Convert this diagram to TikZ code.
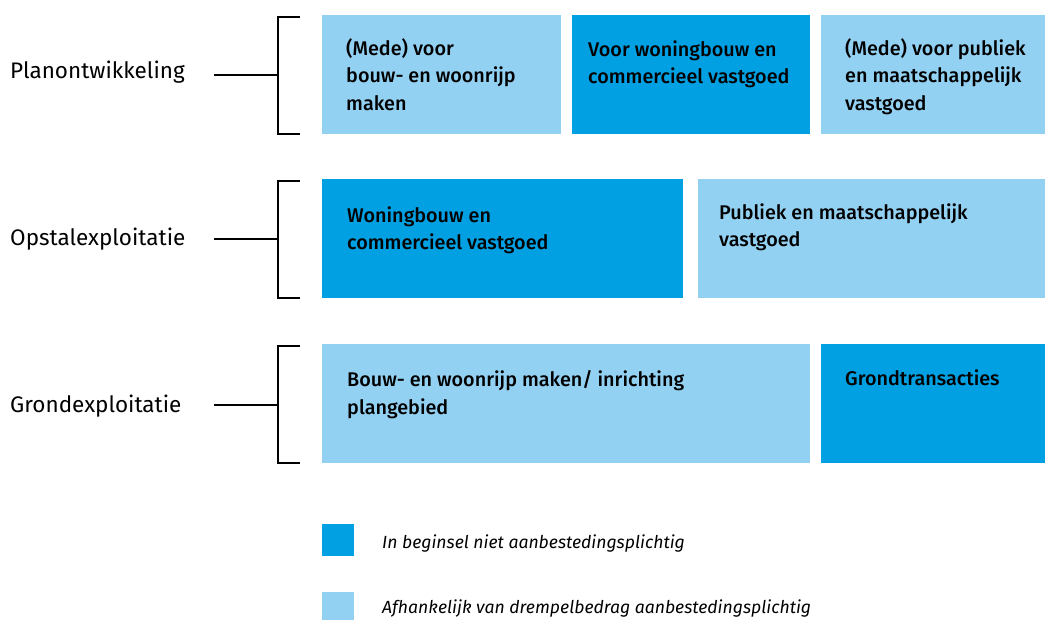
\documentclass[tikz,border=0pt]{standalone}
\usepackage{fontspec}
\setmainfont{Fira Sans}[BoldFont={Fira Sans Medium}]
\usetikzlibrary{calc}
\definecolor{blueDark}{RGB}{1,160,226}
\definecolor{blueLight}{RGB}{147,209,243}
\begin{document}
\begin{tikzpicture}[x=1pt,y=-1pt,
  boxbase/.style={rectangle,inner sep=0pt,outer sep=0pt,anchor=north west,minimum height=119pt},
  dark/.style={boxbase,fill=blueDark},
  light/.style={boxbase,fill=blueLight},
  boxtext/.style={anchor=base west,inner sep=0pt,align=left,
    font=\fontsize{19.8}{27.5}\selectfont\bfseries},
  rowlabel/.style={anchor=base west,inner sep=0pt,font=\fontsize{22.5}{26}\selectfont},
  legtext/.style={anchor=base west,inner sep=0pt,font=\fontsize{17.6}{20}\selectfont\itshape},
  legbox/.style={rectangle,inner sep=0pt,outer sep=0pt,anchor=north west,minimum width=32pt,minimum height=32pt},
  bracket/.style={line width=1.4pt,black}]
\useasboundingbox (0,0) rectangle (1045,619);

% row 1: Planontwikkeling (text anchored at the baseline of its last line)
\node[light,minimum width=239pt] (p1) at (322,15) {};
\node[dark,minimum width=238pt] (p2) at (572,15) {};
\node[light,minimum width=224pt] (p3) at (821,15) {};
\node[boxtext] (p1t) at ($(p1.north west)+(24,95)$) {(Mede) voor\\bouw- en woonrijp\\maken};
\node[boxtext] (p2t) at ($(p2.north west)+(16,68.5)$) {Voor woningbouw en\\commercieel vastgoed};
\node[boxtext] (p3t) at ($(p3.north west)+(24,95)$) {(Mede) voor publiek\\en maatschappelijk\\vastgoed};

% row 2: Opstalexploitatie
\node[dark,minimum width=361pt] (o1) at (322,179) {};
\node[light,minimum width=347pt] (o2) at (698,179) {};
\node[boxtext] (o1t) at ($(o1.north west)+(25,70.5)$) {Woningbouw en\\commercieel vastgoed};
\node[boxtext] (o2t) at ($(o2.north west)+(21,67.5)$) {Publiek en maatschappelijk\\vastgoed};

% row 3: Grondexploitatie
\node[light,minimum width=488pt] (g1) at (322,344) {};
\node[dark,minimum width=224pt] (g2) at (821,344) {};
\node[boxtext] (g1t) at ($(g1.north west)+(25,70)$) {Bouw- en woonrijp maken/ inrichting\\plangebied};
\node[boxtext] (g2t) at ($(g2.north west)+(24,41)$) {Grondtransacties};

% row labels
\node[rowlabel] (lp) at (10,78) {Planontwikkeling};
\node[rowlabel] (lo) at (10,245) {Opstalexploitatie};
\node[rowlabel] (lg) at (10,412) {Grondexploitatie};

% brackets
\foreach \lab/\top/\bot/\mid in {lp/17/134/75, lo/181/298/239, lg/346/463/405}{
  \coordinate (\lab-s) at (214,\mid);
  \coordinate (\lab-m) at (278,\mid);
  \draw[bracket] (\lab-s) -- (\lab-m);
  \draw[bracket] (300,\top) -- (278,\top) -- (278,\bot) -- (300,\bot);
}

% legend
\node[legbox,fill=blueDark] (k1) at (322,524) {};
\node[legbox,fill=blueLight] (k2) at (322,592) {};
\node[legtext] (k1t) at (382,548) {In beginsel niet aanbestedingsplichtig};
\node[legtext] (k2t) at (382,613) {Afhankelijk van drempelbedrag aanbestedingsplichtig};
\end{tikzpicture}
\end{document}
